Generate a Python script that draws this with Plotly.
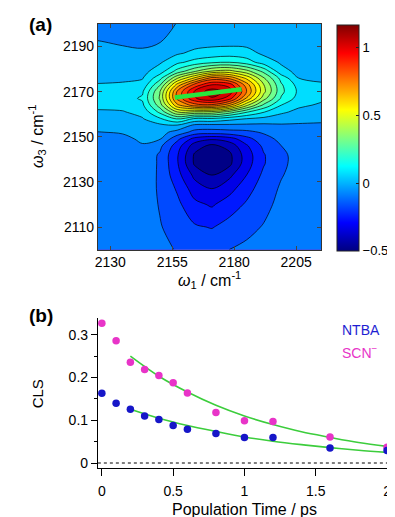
import numpy as np
import plotly.graph_objects as go

# ---------------- (a) 2D IR spectrum ----------------
w1 = [2125, 2135, 2143, 2150, 2157, 2164, 2171, 2178, 2185, 2192, 2199, 2206, 2215]
w3 = [2100, 2110, 2120, 2127, 2133, 2138, 2142, 2146, 2149, 2152, 2155, 2158,
      2161, 2164, 2167, 2170, 2173, 2176, 2179, 2183, 2187, 2192, 2200]

# one list per omega1 column, from omega3 = 2100 up to 2200
col_2125 = [-0.05, -0.05, -0.05, -0.05, -0.05, -0.05, -0.045, -0.035, -0.02, -0.012, 0.02, 0.04,
            0.06, 0.09, 0.115, 0.11, 0.075, 0.05, 0.04, 0.025, 0.01, -0.008, -0.035]
col_2135 = [-0.05, -0.05, -0.05, -0.05, -0.05, -0.05, -0.05, -0.045, -0.025, -0.005, 0.015, 0.04,
            0.065, 0.095, 0.12, 0.115, 0.08, 0.055, 0.04, 0.02, 0.0, -0.015, -0.04]
col_2143 = [-0.05, -0.05, -0.05, -0.05, -0.05, -0.045, -0.035, -0.015, 0.0, 0.02, 0.045, 0.065,
            0.095, 0.135, 0.16, 0.14, 0.095, 0.065, 0.045, 0.025, -0.002, -0.02, -0.04]
col_2150 = [-0.07, -0.085, -0.095, -0.10, -0.10, -0.10, -0.10, -0.07, -0.005, 0.02, 0.05, 0.14,
            0.25, 0.35, 0.40, 0.385, 0.30, 0.20, 0.11, 0.06, 0.015, -0.012, -0.03]
col_2157 = [-0.095, -0.12, -0.15, -0.18, -0.22, -0.24, -0.24, -0.21, -0.15, -0.04, 0.06, 0.24,
            0.47, 0.69, 0.81, 0.80, 0.66, 0.46, 0.26, 0.13, 0.06, 0.025, -0.008]
col_2164 = [-0.09, -0.16, -0.23, -0.29, -0.35, -0.42, -0.42, -0.37, -0.28, -0.12, -0.03, 0.14,
            0.46, 0.83, 1.02, 1.04, 0.90, 0.64, 0.38, 0.18, 0.087, 0.04, 0.015]
col_2171 = [-0.10, -0.175, -0.26, -0.33, -0.41, -0.48, -0.48, -0.43, -0.32, -0.13, -0.035, 0.14,
            0.45, 0.85, 1.10, 1.16, 1.03, 0.82, 0.48, 0.215, 0.10, 0.046, 0.02]
col_2178 = [-0.09, -0.14, -0.21, -0.28, -0.35, -0.43, -0.43, -0.38, -0.29, -0.12, -0.03, 0.10,
            0.36, 0.73, 0.99, 1.08, 1.00, 0.77, 0.50, 0.23, 0.11, 0.045, 0.02]
col_2185 = [-0.075, -0.11, -0.16, -0.20, -0.25, -0.285, -0.29, -0.26, -0.20, -0.11, -0.03, 0.07,
            0.24, 0.49, 0.70, 0.79, 0.75, 0.61, 0.42, 0.19, 0.10, 0.043, 0.02]
col_2192 = [-0.065, -0.085, -0.11, -0.13, -0.15, -0.175, -0.175, -0.15, -0.12, -0.08, -0.03, 0.05,
            0.155, 0.29, 0.42, 0.49, 0.47, 0.395, 0.285, 0.11, 0.055, 0.035, 0.02]
col_2199 = [-0.055, -0.06, -0.07, -0.08, -0.095, -0.105, -0.105, -0.09, -0.07, -0.05, -0.02, 0.03,
            0.085, 0.15, 0.22, 0.25, 0.24, 0.20, 0.095, 0.06, 0.04, 0.028, 0.02]
col_2206 = [-0.05, -0.05, -0.05, -0.055, -0.06, -0.065, -0.065, -0.06, -0.055, -0.045, -0.02, 0.015,
            0.05, 0.085, 0.12, 0.135, 0.12, 0.07, 0.05, 0.038, 0.03, 0.025, 0.02]
col_2215 = [-0.05, -0.05, -0.05, -0.05, -0.05, -0.05, -0.05, -0.05, -0.05, -0.04, -0.02, 0.005,
            0.035, 0.06, 0.085, 0.10, 0.08, 0.055, 0.045, 0.035, 0.03, 0.025, 0.02]

# center line (green) of the positive peak
cls_w1 = [2156, 2183]
cls_w3 = [2167.4, 2171.0]

colorbar_ticks = [-0.5, 0, 0.5, 1]
colorbar_text = ["\u22120.5", "0", "0.5", "1"]

# ---------------- (b) CLS decay ----------------
t_ps = [0, 0.1, 0.2, 0.3, 0.4, 0.5, 0.6, 0.8, 1.0, 1.2, 1.6, 2.0]
cls_scn = [0.327, 0.286, 0.236, 0.219, 0.205, 0.188, 0.164, 0.118, 0.099, 0.097, 0.061, 0.037]
cls_ntba = [0.163, 0.140, 0.126, 0.110, 0.102, 0.088, 0.079, 0.069, 0.060, 0.060, 0.035, 0.029]

fit_t = [0.2, 0.4, 0.6, 0.8, 1.0, 1.2, 1.4, 1.6, 1.8, 2.0]
fit_scn = [0.250, 0.203, 0.166, 0.135, 0.110, 0.090, 0.073, 0.060, 0.048, 0.039]
fit_ntba = [0.126, 0.105, 0.088, 0.074, 0.061, 0.051, 0.043, 0.036, 0.030, 0.025]

# ---------------- styling helpers ----------------
PAGE_OFF = 8            # default body margin of the html page
W, H = 395 - PAGE_OFF, 517 - PAGE_OFF
FONT = "Liberation Sans, Arial, sans-serif"


def jet(f):
    f = min(max(f, 0.0), 1.0)
    r = min(max(1.5 - abs(4 * f - 3), 0), 1)
    g = min(max(1.5 - abs(4 * f - 2), 0), 1)
    b = min(max(1.5 - abs(4 * f - 1), 0), 1)
    return "rgb(%d,%d,%d)" % (round(r * 255), round(g * 255), round(b * 255))


CMIN, CMAX = -0.5, 1.17
LSTART, LSIZE, LEND = -0.41, 0.08, 1.11
# plotly maps contour fills over [start - size, last level]; remap so that fills follow jet on [CMIN, CMAX]
dom_lo, dom_hi = LSTART - LSIZE, LEND
contour_scale = []
for f in np.linspace(0, 1, 41):
    v = dom_lo + (dom_hi - dom_lo) * f
    contour_scale.append([float(f), jet((v - CMIN) / (CMAX - CMIN))])
bar_scale = [[float(f), jet(float(f))] for f in np.linspace(0, 1, 41)]


def px_x(p):
    # page pixel -> paper fraction
    return (p - PAGE_OFF) / W


def px_y(p):
    return 1 - (p - PAGE_OFF) / H


z = np.array([col_2125, col_2135, col_2143, col_2150, col_2157, col_2164, col_2171,
              col_2178, col_2185, col_2192, col_2199, col_2206, col_2215]).T

fig = go.Figure()

fig.add_trace(go.Contour(
    x=w1, y=w3, z=z,
    autocontour=False,
    contours=dict(start=LSTART, end=LEND, size=LSIZE, coloring="fill", showlines=True),
    colorscale=contour_scale,
    line=dict(color="rgba(0,0,0,0.85)", width=0.8, smoothing=1.0),
    showscale=False, hoverinfo="skip",
    xaxis="x", yaxis="y",
))

fig.add_trace(go.Scatter(
    x=cls_w1, y=cls_w3, mode="lines",
    line=dict(color="rgb(40,230,60)", width=4.5),
    showlegend=False, xaxis="x", yaxis="y",
))

# continuous colour bar
fig.add_trace(go.Scatter(
    x=[2170], y=[2170], mode="markers",
    marker=dict(size=1, opacity=0, color=[0], colorscale=bar_scale, cmin=CMIN, cmax=CMAX,
                showscale=True,
                colorbar=dict(x=px_x(338), xanchor="left", xref="paper",
                              y=px_y(138.5), yanchor="middle", yref="paper",
                              len=(252 - 25) / H, lenmode="fraction",
                              thickness=22, thicknessmode="pixels",
                              xpad=0, ypad=0, outlinewidth=1, outlinecolor="#222",
                              tickvals=colorbar_ticks, ticktext=colorbar_text,
                              ticks="inside", ticklen=3, tickcolor="#222",
                              tickfont=dict(size=13, color="black", family=FONT))),
    showlegend=False, hoverinfo="skip", xaxis="x", yaxis="y",
))

# ---------- panel (b) ----------
fig.add_trace(go.Scatter(x=fit_t, y=fit_scn, mode="lines", line=dict(color="rgb(60,205,60)", width=1.6, shape="spline"),
                         showlegend=False, xaxis="x2", yaxis="y2"))
fig.add_trace(go.Scatter(x=fit_t, y=fit_ntba, mode="lines", line=dict(color="rgb(60,205,60)", width=1.6, shape="spline"),
                         showlegend=False, xaxis="x2", yaxis="y2"))
fig.add_trace(go.Scatter(x=t_ps, y=cls_scn, mode="markers", cliponaxis=False,
                         marker=dict(color="rgb(232,52,200)", size=7.5),
                         showlegend=False, xaxis="x2", yaxis="y2"))
fig.add_trace(go.Scatter(x=t_ps, y=cls_ntba, mode="markers", cliponaxis=False,
                         marker=dict(color="rgb(22,22,200)", size=7.5),
                         showlegend=False, xaxis="x2", yaxis="y2"))

axis_common = dict(showgrid=False, zeroline=False, tickfont=dict(size=14, color="black", family=FONT))

fig.update_layout(
    width=W, height=H,
    margin=dict(l=0, r=0, t=0, b=0),
    paper_bgcolor="white", plot_bgcolor="white",
    font=dict(family=FONT, color="black"),
    showlegend=False,
    xaxis=dict(domain=[px_x(96), px_x(322)], range=[2125, 2215], anchor="y",
               tickvals=[2130, 2155, 2180, 2205], ticks="inside", ticklen=4,
               showline=True, linecolor="#333", linewidth=1, mirror="ticks", **axis_common),
    yaxis=dict(domain=[px_y(251), px_y(24)], range=[2100, 2200], anchor="x",
               tickvals=[2110, 2130, 2150, 2170, 2190], ticks="inside", ticklen=4,
               showline=True, linecolor="#333", linewidth=1, mirror="ticks", **axis_common),
    xaxis2=dict(domain=[px_x(96), px_x(391)], range=[-0.028, 2.014], anchor="y2",
                tickvals=[0, 0.5, 1, 1.5, 2], ticktext=["0", "0.5", "1", "1.5", "2"],
                ticks="outside", ticklen=7, tickcolor="black", ticklabelstandoff=3,
                showline=True, linecolor="black", linewidth=1, **axis_common),
    yaxis2=dict(domain=[px_y(471), px_y(320)], range=[-0.0123, 0.339], anchor="x2",
                tickvals=[0, 0.1, 0.2, 0.3], ticktext=["0", "0.1", "0.2", "0.3"],
                ticks="outside", ticklen=6, tickcolor="black",
                minor=dict(tickvals=[0.05, 0.15, 0.25], ticks="outside", ticklen=3, tickcolor="black"),
                showline=True, linecolor="black", linewidth=1, **axis_common),
)

fig.add_shape(type="line", xref="x2", yref="y2", x0=-0.028, x1=2.014, y0=0, y1=0,
              line=dict(color="black", width=1, dash="dot"))

ann = []
ann.append(dict(text="<b>(a)</b>", x=px_x(24), y=px_y(25), xanchor="left", yanchor="middle",
                font=dict(size=19, family=FONT)))
ann.append(dict(text="<b>(b)</b>", x=px_x(24), y=px_y(317), xanchor="left", yanchor="middle",
                font=dict(size=19, family=FONT)))
ann.append(dict(text="<i>\u03c9</i><sub>1</sub> / cm<sup>-1</sup>", x=px_x(209), y=px_y(282),
                xanchor="center", yanchor="middle", font=dict(size=16, family=FONT)))
ann.append(dict(text="<i>\u03c9</i><sub>3</sub> / cm<sup>-1</sup>", x=px_x(35), y=px_y(137),
                xanchor="center", yanchor="middle", textangle=-90, font=dict(size=16, family=FONT)))
ann.append(dict(text="CLS", x=px_x(35), y=px_y(396), xanchor="center", yanchor="middle",
                textangle=-90, font=dict(size=15, family=FONT)))
ann.append(dict(text="Population Time / ps", x=px_x(245), y=px_y(512), xanchor="center",
                yanchor="middle", font=dict(size=16, family=FONT)))
ann.append(dict(text="NTBA", x=px_x(341), y=px_y(332), xanchor="left", yanchor="middle",
                font=dict(size=14, color="rgb(30,30,210)", family=FONT)))
ann.append(dict(text="SCN<sup>\u2212</sup>", x=px_x(341), y=px_y(354), xanchor="left", yanchor="middle",
                font=dict(size=14, color="rgb(232,52,200)", family=FONT)))
for a in ann:
    a.update(xref="paper", yref="paper", showarrow=False)
fig.update_layout(annotations=ann)

fig.write_html("out.html")
